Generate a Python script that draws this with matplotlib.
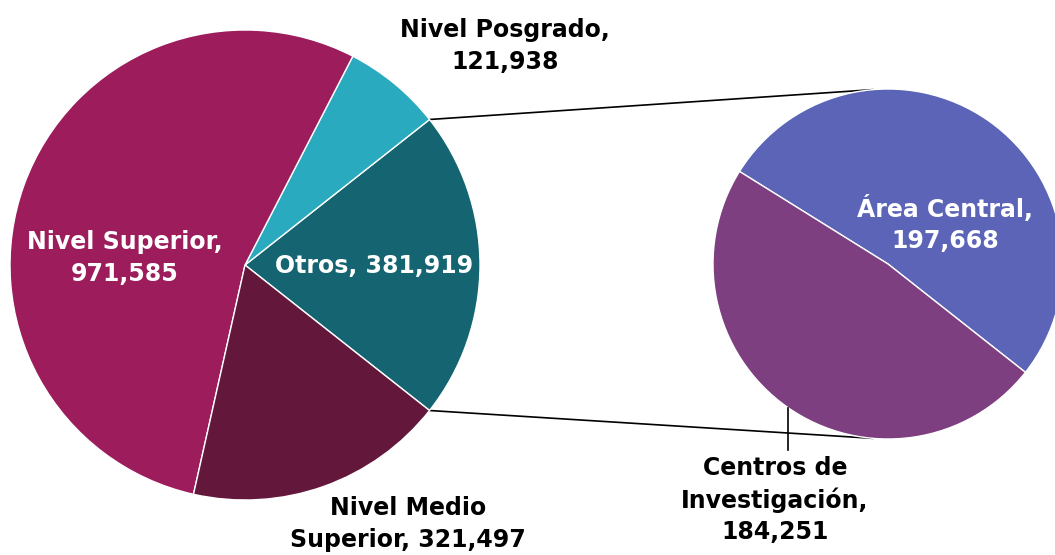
import numpy as np
import matplotlib
matplotlib.use("Agg")
import matplotlib.pyplot as plt

# ---- data ----
main_names = ["Otros", "Nivel Posgrado", "Nivel Superior", "Nivel Medio\nSuperior"]
main_values = [381919, 121938, 971585, 321497]
sub_names = ["Área Central", "Centros de\nInvestigación"]
sub_values = [197668, 184251]

main_colors = ["#146571", "#29AABE", "#9C1C5C", "#63183B"]
sub_colors = ["#5B64B7", "#7D3F80"]

W, H = 1055, 555
fig = plt.figure(figsize=(W / 100, H / 100), dpi=100)
ax = fig.add_axes([0, 0, 1, 1])

def Y(py):
    return H - py

main_c = (245, Y(265)); main_r = 235
sub_c = (888, Y(264)); sub_r = 175

total_main = sum(main_values)
start_main = -360 * main_values[0] / total_main / 2
wp = dict(edgecolor="white", linewidth=1.0)
mw, _ = ax.pie(main_values, colors=main_colors, startangle=start_main,
               counterclock=True, center=main_c, radius=main_r,
               wedgeprops=wp, frame=True)
sw, _ = ax.pie(sub_values, colors=sub_colors, startangle=start_main,
               counterclock=True, center=sub_c, radius=sub_r,
               wedgeprops=wp, frame=True)
ax.set_xlim(0, W)
ax.set_ylim(0, H)
ax.set_aspect("equal")
ax.axis("off")

def pt(c, r, ang):
    a = np.deg2rad(ang)
    return c[0] + r * np.cos(a), c[1] + r * np.sin(a)

# connector lines
t1, t2 = mw[0].theta1, mw[0].theta2
p_top = pt(main_c, main_r, t2)
p_bot = pt(main_c, main_r, t1)
q_top = pt(sub_c, sub_r, 95)
q_bot = pt(sub_c, sub_r, 265)
ax.plot([p_top[0], q_top[0]], [p_top[1], q_top[1]], color="black", lw=1.2, zorder=0)
ax.plot([p_bot[0], q_bot[0]], [p_bot[1], q_bot[1]], color="black", lw=1.2, zorder=0)

# leader for Centros
lp = pt(sub_c, sub_r, 235.2)
ax.plot([lp[0], lp[0]], [lp[1], Y(450)], color="black", lw=1.2, zorder=5)

fs = 17
font = dict(fontsize=fs, fontweight="bold", family="DejaVu Sans",
            ha="center", va="center", linespacing=1.38)

def lab(name, val, sep):
    return f"{name},{sep}{val:,}"

ax.text(505, Y(46), lab(main_names[1], main_values[1], "\n"), color="black", **font)
ax.text(125, Y(258), lab(main_names[2], main_values[2], "\n"), color="white", **font)
ax.text(374, Y(266), lab(main_names[0], main_values[0], " "), color="white", **font)
ax.text(408, Y(524), lab(main_names[3], main_values[3], " "), color="black", **font)
ax.text(945, Y(224), lab(sub_names[0], sub_values[0], "\n"), color="white", **font)
ax.text(775, Y(500), lab(sub_names[1], sub_values[1], "\n"), color="black", **font)

fig.savefig("out.png", dpi=100, facecolor="white")
